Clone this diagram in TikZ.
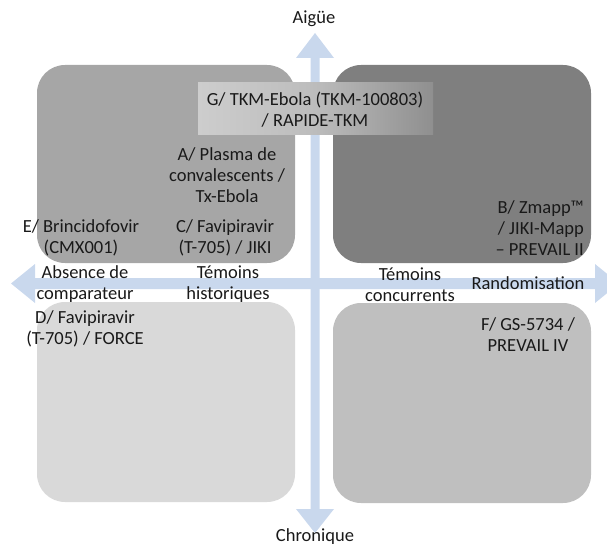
\documentclass[tikz,border=0pt]{standalone}
\usepackage{fontspec}
\setmainfont{Carlito}
\definecolor{arrowblue}{RGB}{201,216,237}
\definecolor{boxTL}{RGB}{166,166,166}
\definecolor{boxTR}{RGB}{127,127,127}
\definecolor{boxBL}{RGB}{217,217,217}
\definecolor{boxBR}{RGB}{191,191,191}
\definecolor{txt}{RGB}{25,25,25}
\definecolor{gl}{RGB}{222,222,222}
\definecolor{gm}{RGB}{188,188,188}
\definecolor{gd}{RGB}{125,125,125}
\definecolor{gdd}{RGB}{92,92,92}
\pgfdeclarehorizontalshading{gboxshade}{100bp}{color(0bp)=(gl); color(50bp)=(gm); color(85bp)=(gd); color(100bp)=(gdd)}
\tikzset{
  quadbox/.style={rounded corners=28pt},
  lbl/.style={align=center, text=txt, font=\fontsize{18.5}{21}\selectfont, inner sep=0pt},
  arrowfill/.style={fill=arrowblue, draw=none}
}
\begin{document}
\begin{tikzpicture}[x=1pt,y=-1pt]
\useasboundingbox (0,0) rectangle (607,548);
\clip (0,0) rectangle (607,548);
% axes
\fill[arrowfill] (315,33) -- (334,58) -- (319.5,58) -- (319.5,509) -- (334,509) -- (315,533) -- (296,509) -- (310.5,509) -- (310.5,58) -- (296,58) -- cycle;
\fill[arrowfill] (11,283.5) -- (35,264) -- (35,278) -- (595,278) -- (595,264) -- (619,283.5) -- (595,303) -- (595,289) -- (35,289) -- (35,303) -- cycle;
% quadrants
\fill[boxTL, quadbox] (37,65) rectangle (295,263);
\fill[boxTR, quadbox] (333,65) rectangle (591,263);
\fill[boxBL, quadbox] (37,302) rectangle (295,502);
\fill[boxBR, quadbox] (333,303) rectangle (591,503);
% G box
\path[shading=gboxshade] (198,83) rectangle (433,135);
% labels
\node[lbl] (aigue) at (314,19) {Aigüe};
\node[lbl] (chron) at (315,537) {Chronique};
\node[lbl] (g) at (315,109.5) {G/ TKM-Ebola (TKM-100803)\\/ RAPIDE-TKM};
\node[lbl] (a) at (227,175) {A/ Plasma de\\convalescents /\\Tx-Ebola};
\node[lbl] (c) at (225,237.5) {C/ Favipiravir\\(T-705) / JIKI};
\node[lbl] (e) at (81,237.5) {E/ Brincidofovir\\(CMX001)};
\node[lbl, align=right, anchor=east] (b) at (584,228.5) {B/ Zmapp™\\/ JIKI-Mapp\\– PREVAIL II};
\node[lbl] (abs) at (85,284.5) {Absence de\\comparateur};
\node[lbl] (hist) at (228,284.5) {Témoins\\historiques};
\node[lbl] (conc) at (410,284.5) {Témoins\\concurrents};
\node[lbl] (rand) at (528,283) {Randomisation};
\node[lbl] (d) at (85,328.5) {D/ Favipiravir\\(T-705) / FORCE};
\node[lbl] (f) at (528,334.5) {F/ GS-5734 /\\PREVAIL IV};
\end{tikzpicture}
\end{document}
